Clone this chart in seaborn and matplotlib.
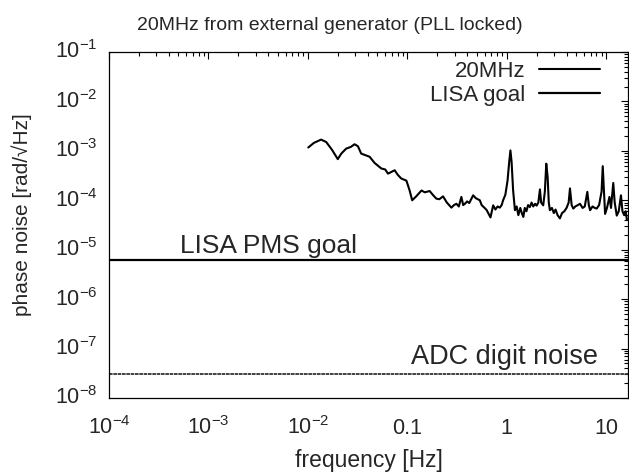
import numpy as np
import pandas as pd
import matplotlib
matplotlib.use("Agg")
import matplotlib.pyplot as plt
import matplotlib.ticker as mticker
import seaborn as sns

# ---- data ----
freq_hz = [0.0101, 0.0115, 0.0136, 0.0153, 0.0175, 0.0200, 0.0217, 0.0243, 0.0270, 0.0295,
           0.0319, 0.0344, 0.0418, 0.0469, 0.0548, 0.0600, 0.0640, 0.0747, 0.0800, 0.0870,
           0.0980, 0.1056, 0.112, 0.123, 0.139, 0.150, 0.168, 0.180, 0.196, 0.210,
           0.229, 0.250, 0.278, 0.295, 0.312, 0.330, 0.350, 0.365, 0.380, 0.400,
           0.420, 0.460, 0.490, 0.537, 0.560, 0.600, 0.630, 0.687, 0.731, 0.770,
           0.810, 0.853, 0.890, 0.920, 0.970, 1.02, 1.06, 1.09, 1.12, 1.16,
           1.21, 1.26, 1.31, 1.37, 1.42, 1.47, 1.52, 1.58, 1.64, 1.71,
           1.78, 1.85, 1.93, 2.00, 2.08, 2.16, 2.22, 2.33, 2.42, 2.50,
           2.58, 2.65, 2.72, 2.85, 2.98, 3.10, 3.25, 3.43, 3.60, 3.80,
           4.00, 4.20, 4.33, 4.50, 4.68, 4.90, 5.20, 5.46, 5.80, 6.10,
           6.47, 6.70, 6.90, 7.30, 7.70, 8.04, 8.50, 9.00, 9.25, 9.50,
           9.77, 10.2, 10.8, 11.2, 11.8, 12.2, 12.8, 13.4, 14.1, 14.6,
           15.2, 15.7, 16.2]
noise_20mhz = [1.17e-3, 1.45e-3, 1.69e-3, 1.51e-3, 1.05e-3, 6.8e-4, 8.8e-4, 1.11e-3, 1.2e-3, 1.36e-3,
               1.24e-3, 8.8e-4, 7.6e-4, 5.7e-4, 4.4e-4, 4.2e-4, 3.46e-4, 4.05e-4, 3.3e-4, 2.76e-4,
               2.5e-4, 1.58e-4, 1.0e-4, 1.2e-4, 1.58e-4, 1.45e-4, 1.54e-4, 1.3e-4, 1.08e-4, 1.05e-4,
               1.2e-4, 9e-5, 7.1e-5, 8e-5, 8.5e-5, 7.5e-5, 1.17e-4, 8e-5, 8.5e-5, 9.5e-5,
               8.8e-5, 1.26e-4, 1.1e-4, 1.0e-4, 8e-5, 7e-5, 6.3e-5, 4.5e-5, 7.9e-5, 6.5e-5,
               7.5e-5, 7.1e-5, 8e-5, 1.0e-4, 1.3e-4, 2.5e-4, 6e-4, 1.02e-3, 6e-4, 1.6e-4,
               6.3e-5, 7.5e-5, 5e-5, 7e-5, 5.5e-5, 4.6e-5, 7e-5, 6e-5, 8e-5, 7.3e-5,
               9e-5, 7.5e-5, 8.5e-5, 7.8e-5, 9e-5, 1.66e-4, 9e-5, 7.9e-5, 1.5e-4, 5.5e-4,
               3e-4, 9e-5, 6.3e-5, 7e-5, 5.5e-5, 6.5e-5, 5e-5, 4.3e-5, 5.5e-5, 6e-5,
               7e-5, 9e-5, 1.74e-4, 8e-5, 6.8e-5, 7.5e-5, 8e-5, 8.5e-5, 7e-5, 7.5e-5,
               1.48e-4, 8e-5, 6.3e-5, 7.5e-5, 7e-5, 6.8e-5, 8e-5, 1.5e-4, 4.9e-4, 1.6e-4,
               5.3e-5, 7e-5, 1.17e-4, 7e-5, 2.24e-4, 9e-5, 4.9e-5, 6e-5, 1.26e-4, 6e-5,
               5e-5, 6e-5, 4e-5]
lisa_goal = 6.3e-6
adc_noise = 3.0e-8

x_ticks = [1e-4, 1e-3, 1e-2, 1e-1, 1, 10]
x_ticklabels = [r"$10^{-4}$", r"$10^{-3}$", r"$10^{-2}$", "0.1", "1", "10"]
y_ticks = [1e-8, 1e-7, 1e-6, 1e-5, 1e-4, 1e-3, 1e-2, 1e-1]
y_ticklabels = [r"$10^{-8}$", r"$10^{-7}$", r"$10^{-6}$", r"$10^{-5}$",
                r"$10^{-4}$", r"$10^{-3}$", r"$10^{-2}$", r"$10^{-1}$"]

title = "20MHz from external generator (PLL locked)"
xlabel = "frequency [Hz]"
ylabel = "phase noise [rad/\u221aHz]"

# ---- style ----
sns.set_style("white")
plt.rcParams["font.family"] = ["Liberation Sans", "DejaVu Sans"]
plt.rcParams["mathtext.fontset"] = "custom"
plt.rcParams["mathtext.rm"] = "Liberation Sans"
plt.rcParams["mathtext.it"] = "Liberation Sans:italic"
plt.rcParams["mathtext.bf"] = "Liberation Sans:bold"
plt.rcParams["mathtext.default"] = "regular"

W, H = 629, 473
fig = plt.figure(figsize=(W / 100, H / 100), dpi=100)
L, R, T, B = 109, 628, 52, 398
ax = fig.add_axes([L / W, 1 - B / H, (R - L) / W, (B - T) / H])
ax.set_xscale("log")
ax.set_yscale("log")

df = pd.DataFrame({"f": freq_hz, "v": noise_20mhz})
sns.lineplot(data=df, x="f", y="v", ax=ax, color="black", linewidth=1.5,
             label="20MHz", sort=False)
ax.axhline(lisa_goal, color="black", linewidth=1.6, label="LISA goal")
ax.axhline(adc_noise, color="#333333", linewidth=1.3, linestyle=(0, (2.0, 0.4)))

ax.set_xlim(1e-4, 16.6)
ax.set_ylim(1e-8, 1e-1)

ax.xaxis.set_major_locator(mticker.FixedLocator(x_ticks))
ax.xaxis.set_major_formatter(mticker.FixedFormatter(x_ticklabels))
ax.xaxis.set_minor_locator(mticker.LogLocator(base=10, subs=np.arange(2, 10), numticks=20))
ax.xaxis.set_minor_formatter(mticker.NullFormatter())
ax.yaxis.set_major_locator(mticker.FixedLocator(y_ticks))
ax.yaxis.set_major_formatter(mticker.FixedFormatter(y_ticklabels))
ax.yaxis.set_minor_locator(mticker.LogLocator(base=10, subs=np.arange(2, 10), numticks=20))
ax.yaxis.set_minor_formatter(mticker.NullFormatter())

ax.tick_params(which="both", direction="in", top=True, right=True, color="black", width=0.8)
ax.tick_params(which="major", length=5)
ax.tick_params(which="minor", length=3)
ax.tick_params(axis="x", which="major", labelsize=15.5, pad=26)
ax.tick_params(axis="y", which="major", labelsize=15.5, pad=8)
for lab in ax.get_xticklabels():
    lab.set_va("baseline")
for lab in ax.get_yticklabels():
    lab.set_va("center")

for s in ax.spines.values():
    s.set_color("black")
    s.set_linewidth(0.9)
    s.set_visible(True)

ax.set_xlabel(xlabel, fontsize=16.5, labelpad=7)
ax.set_ylabel(ylabel, fontsize=15)
ax.yaxis.set_label_coords(-0.148, 0.53)

fig.text(330 / W, 1 - 30 / H, title, ha="center", va="baseline", fontsize=14)

ax.text(5.2e-4, 8.5e-6, "LISA PMS goal", fontsize=19, ha="left", va="baseline")
ax.text(0.108, 4.8e-8, "ADC digit noise", fontsize=19.5, ha="left", va="baseline")

leg = ax.legend(loc="upper right", bbox_to_anchor=(600 / W, 1 - 61 / H),
                bbox_transform=fig.transFigure, frameon=False, markerfirst=False,
                fontsize=16, handlelength=2.75, handletextpad=0.6,
                labelspacing=0.12, borderpad=0, borderaxespad=0)

fig.savefig("out.png", dpi=100, facecolor="white")
